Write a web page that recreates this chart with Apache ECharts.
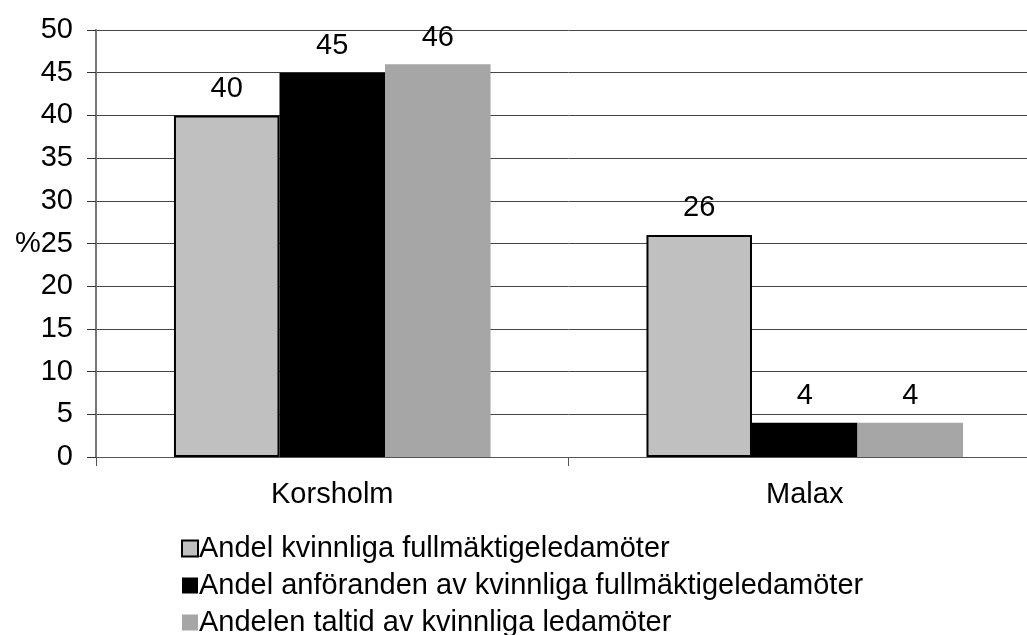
<!DOCTYPE html>
<html><head><meta charset="utf-8">
<script src="https://cdn.jsdelivr.net/npm/echarts@6/dist/echarts.min.js"></script>
<style>html,body{margin:0;padding:0;background:#fff;overflow:hidden}#c{width:1050px;height:635px}</style>
</head><body><div id="c"></div>
<script>
const categories = ['Korsholm', 'Malax'];
const seriesNames = ['Andel kvinnliga fullmäktigeledamöter', 'Andel anföranden av kvinnliga fullmäktigeledamöter', 'Andelen taltid av kvinnliga ledamöter'];
const valsLedamoter = [40, 26];
const valsAnforanden = [45, 4];
const valsTaltid = [46, 4];
const yTicks = [0, 5, 10, 15, 20, 25, 30, 35, 40, 45, 50];

const font = 'Liberation Sans, Arial, sans-serif';
const fs = 29;
const chart = echarts.init(document.getElementById('c'));
const lbl = {show: true, position: 'top', distance: 12, color: '#000', fontSize: fs, fontFamily: font};
chart.setOption({
  animation: false,
  grid: {left: 96, right: 9, top: 30, bottom: 178, containLabel: false},
  xAxis: {type: 'category', data: categories,
    axisLine: {lineStyle: {color: '#555', width: 1}},
    axisTick: {show: true, length: 9, lineStyle: {color: '#555'}},
    axisLabel: {color: '#000', fontSize: fs, fontFamily: font, margin: 23}},
  yAxis: {type: 'value', min: 0, max: 50, interval: 5,
    axisLine: {show: true, lineStyle: {color: '#777', width: 2}},
    axisTick: {show: true, length: 9, lineStyle: {color: '#333'}},
    splitLine: {lineStyle: {color: '#444', width: 1}},
    axisLabel: {color: '#000', fontSize: fs, fontFamily: font, margin: 23,
      formatter: v => (v === 25 ? '%' : '') + v}},
  legend: {orient: 'vertical', left: 176, top: 529, height: 110, itemWidth: 16, itemHeight: 16, itemGap: 8,
    icon: 'rect',
    textStyle: {color: '#000', fontSize: fs, fontFamily: font, padding: [0,0,0,-4]},
    data: seriesNames},
  series: [
    {name: seriesNames[0], type: 'bar', data: valsLedamoter, barGap: '0%', barCategoryGap: '33%',
      itemStyle: {color: '#c0c0c0', borderColor: '#000', borderWidth: 2}, label: lbl},
    {name: seriesNames[1], type: 'bar', data: valsAnforanden,
      itemStyle: {color: '#000'}, label: lbl},
    {name: seriesNames[2], type: 'bar', data: valsTaltid,
      itemStyle: {color: '#a6a6a6'}, label: lbl}
  ]
});
</script></body></html>
